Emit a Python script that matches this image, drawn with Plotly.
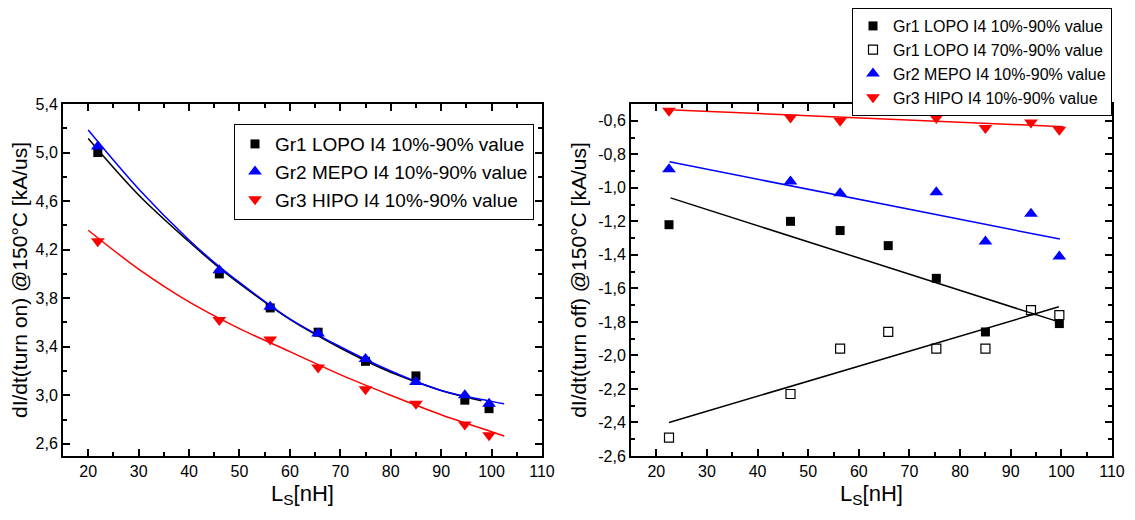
import plotly.graph_objects as go

# ---------------- data ----------------
# left panel: dI/dt(turn on)
ls_on = [21.9, 46.0, 56.1, 65.6, 75.0, 85.0, 94.7, 99.5]
on_gr1 = [5.00, 4.00, 3.72, 3.52, 3.28, 3.16, 2.96, 2.89]
on_gr2 = [5.05, 4.03, 3.73, 3.51, 3.30, 3.11, 3.00, 2.93]
on_gr3 = [4.27, 3.62, 3.46, 3.23, 3.05, 2.93, 2.76, 2.67]

fit_on_gr1_x = [20, 30, 40, 46, 50, 60, 70, 80, 90, 98]
fit_on_gr1_y = [5.115, 4.65, 4.265, 4.05, 3.92, 3.625, 3.39, 3.19, 3.04, 2.955]
fit_on_gr2_x = [20, 30, 40, 46, 50, 60, 70, 80, 90, 100, 102.5]
fit_on_gr2_y = [5.185, 4.70, 4.28, 4.06, 3.93, 3.63, 3.40, 3.20, 3.04, 2.95, 2.93]
fit_on_gr3_x = [20, 30, 40, 50, 60, 70, 80, 90, 100, 102.5]
fit_on_gr3_y = [4.36, 4.04, 3.77, 3.55, 3.36, 3.17, 3.00, 2.84, 2.70, 2.665]

# right panel: dI/dt(turn off)
ls_off_gr1 = [22.5, 46.5, 56.3, 65.8, 75.3, 85.0, 99.6]
off_gr1 = [-1.22, -1.20, -1.255, -1.345, -1.54, -1.86, -1.81]
ls_off_gr1b = [22.5, 46.5, 56.3, 65.8, 75.3, 85.0, 94.0, 99.6]
off_gr1b = [-2.49, -2.23, -1.96, -1.86, -1.96, -1.96, -1.73, -1.76]
ls_off_gr23 = [22.5, 46.5, 56.3, 75.3, 85.0, 94.0, 99.6]
off_gr2 = [-0.89, -0.963, -1.032, -1.026, -1.32, -1.155, -1.41]
off_gr3 = [-0.54, -0.58, -0.60, -0.583, -0.643, -0.61, -0.653]

fit_off_gr1_x = [22.8, 99.5]
fit_off_gr1_y = [-1.06, -1.80]
fit_off_gr1b_x = [22.5, 99.5]
fit_off_gr1b_y = [-2.40, -1.71]
fit_off_gr2_x = [22.6, 99.7]
fit_off_gr2_y = [-0.845, -1.306]
fit_off_gr3_x = [23.6, 100.4]
fit_off_gr3_y = [-0.536, -0.635]

names_on = ["Gr1 LOPO I4 10%-90% value", "Gr2 MEPO I4 10%-90% value", "Gr3 HIPO I4 10%-90% value"]
names_off = ["Gr1 LOPO I4 10%-90% value", "Gr1 LOPO I4 70%-90% value",
             "Gr2 MEPO I4 10%-90% value", "Gr3 HIPO I4 10%-90% value"]

y_on_ticks = [2.6, 3.0, 3.4, 3.8, 4.2, 4.6, 5.0, 5.4]
y_on_text = ["2,6", "3,0", "3,4", "3,8", "4,2", "4,6", "5,0", "5,4"]
y_off_ticks = [-2.6, -2.4, -2.2, -2.0, -1.8, -1.6, -1.4, -1.2, -1.0, -0.8, -0.6]
y_off_text = ["-2,6", "-2,4", "-2,2", "-2,0", "-1,8", "-1,6", "-1,4", "-1,2", "-1,0", "-0,8", "-0,6"]

BLACK, BLUE, RED = "#000000", "#0000FF", "#FF0000"
FONT = "Liberation Sans, Arial, sans-serif"
TRI = 12
SQ = 9

fig = go.Figure()

# ---- left panel ----
for fx, fy, col in [(fit_on_gr1_x, fit_on_gr1_y, BLACK), (fit_on_gr2_x, fit_on_gr2_y, BLUE),
                    (fit_on_gr3_x, fit_on_gr3_y, RED)]:
    fig.add_trace(go.Scatter(x=fx, y=fy, mode="lines", line=dict(color=col, width=1.5, shape="spline"),
                             showlegend=False, xaxis="x", yaxis="y", hoverinfo="skip"))
fig.add_trace(go.Scatter(x=ls_on, y=on_gr1, mode="markers", name=names_on[0],
                         marker=dict(symbol="square", size=SQ, color=BLACK), xaxis="x", yaxis="y", legend="legend"))
fig.add_trace(go.Scatter(x=ls_on, y=on_gr2, mode="markers", name=names_on[1],
                         marker=dict(symbol="triangle-up", size=TRI, color=BLUE), xaxis="x", yaxis="y", legend="legend"))
fig.add_trace(go.Scatter(x=ls_on, y=on_gr3, mode="markers", name=names_on[2],
                         marker=dict(symbol="triangle-down", size=TRI, color=RED), xaxis="x", yaxis="y", legend="legend"))

# ---- right panel ----
for fx, fy, col in [(fit_off_gr1_x, fit_off_gr1_y, BLACK), (fit_off_gr1b_x, fit_off_gr1b_y, BLACK),
                    (fit_off_gr2_x, fit_off_gr2_y, BLUE), (fit_off_gr3_x, fit_off_gr3_y, RED)]:
    fig.add_trace(go.Scatter(x=fx, y=fy, mode="lines", line=dict(color=col, width=1.5),
                             showlegend=False, xaxis="x2", yaxis="y2", hoverinfo="skip"))
fig.add_trace(go.Scatter(x=ls_off_gr1, y=off_gr1, mode="markers", name=names_off[0],
                         marker=dict(symbol="square", size=SQ, color=BLACK), xaxis="x2", yaxis="y2", legend="legend2"))
fig.add_trace(go.Scatter(x=ls_off_gr1b, y=off_gr1b, mode="markers", name=names_off[1],
                         marker=dict(symbol="square-open", size=SQ, color=BLACK, line=dict(width=1.2)),
                         xaxis="x2", yaxis="y2", legend="legend2"))
fig.add_trace(go.Scatter(x=ls_off_gr23, y=off_gr2, mode="markers", name=names_off[2],
                         marker=dict(symbol="triangle-up", size=TRI, color=BLUE), xaxis="x2", yaxis="y2", legend="legend2"))
fig.add_trace(go.Scatter(x=ls_off_gr23, y=off_gr3, mode="markers", name=names_off[3],
                         marker=dict(symbol="triangle-down", size=TRI, color=RED), xaxis="x2", yaxis="y2", legend="legend2"))

axis_common = dict(
    showline=True, linecolor="black", linewidth=2, mirror="ticks",
    ticks="inside", ticklen=7, tickwidth=2, tickcolor="black",
    showgrid=False, zeroline=False,
    tickfont=dict(family=FONT, size=16, color="black"),
    automargin=False,
)
xcommon = dict(axis_common, range=[15, 110], tickmode="linear", tick0=0, dtick=10,
               minor=dict(ticks="inside", ticklen=4, tickwidth=2, tickcolor="black", dtick=5, tick0=0, showgrid=False),
               title=dict(text="L<sub>S</sub>[nH]", font=dict(family=FONT, size=22, color="black"), standoff=6))

# the page body adds an 8 px offset, so the figure is 8 px smaller than the window
fig.update_layout(
    width=1127, height=512,
    paper_bgcolor="white", plot_bgcolor="white",
    margin=dict(l=55, r=23, t=96, b=64, autoexpand=False),
    font=dict(family=FONT, color="black"),
    xaxis=dict(xcommon, domain=[0, 0.4566], anchor="y"),
    yaxis=dict(axis_common, domain=[0, 1], anchor="x", range=[2.5, 5.4],
               tickmode="array", tickvals=y_on_ticks, ticktext=y_on_text,
               minor=dict(ticks="inside", ticklen=4, tickwidth=2, tickcolor="black", dtick=0.2, tick0=2.6, showgrid=False),
               title=dict(text="dI/dt(turn on) @150°C [kA/us]", font=dict(family=FONT, size=21, color="black"), standoff=4)),
    xaxis2=dict(xcommon, domain=[0.5415, 1], anchor="y2"),
    yaxis2=dict(axis_common, domain=[0, 1], anchor="x2", range=[-2.6, -0.5],
                tickmode="array", tickvals=y_off_ticks, ticktext=y_off_text,
                minor=dict(ticks="inside", ticklen=4, tickwidth=2, tickcolor="black", dtick=0.1, tick0=-2.6, showgrid=False),
                title=dict(text="dI/dt(turn off) @150°C [kA/us]", font=dict(family=FONT, size=21, color="black"), standoff=6)),
    legend=dict(x=0.449, y=0.943, xanchor="right", yanchor="top",
                bgcolor="white", bordercolor="black", borderwidth=1,
                font=dict(family=FONT, size=19, color="black"), itemwidth=30, tracegroupgap=0),
    legend2=dict(x=1.0, y=1.2727, xanchor="right", yanchor="top",
                 bgcolor="white", bordercolor="black", borderwidth=1,
                 font=dict(family=FONT, size=16, color="black"), itemwidth=30, tracegroupgap=0),
    showlegend=True,
)

fig.write_html("out.html")
